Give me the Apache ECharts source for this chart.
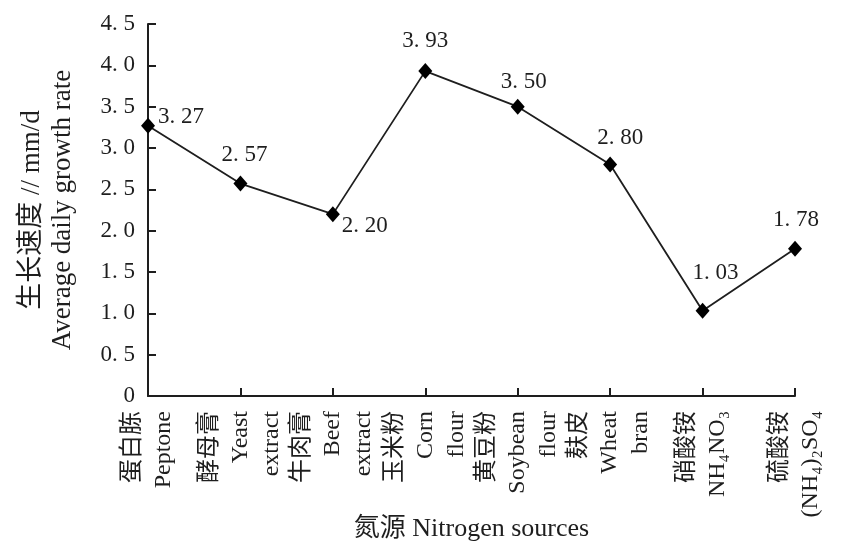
<!DOCTYPE html>
<html>
<head>
<meta charset="utf-8">
<script src="https://cdn.jsdelivr.net/npm/echarts@6/dist/echarts.min.js"></script>
<style>
html,body{margin:0;padding:0;background:#fff;}
#chart{width:843px;height:553px;}
</style>
</head>
<body>
<div id="chart"></div>
<script>
var categoriesCn = ['蛋白胨', '酵母膏', '牛肉膏', '玉米粉', '黄豆粉', '麸皮', '硝酸铵', '硫酸铵'];
var categoriesEn = ['Peptone', 'Yeast\nextract', 'Beef\nextract', 'Corn\nflour', 'Soybean\nflour', 'Wheat\nbran', 'NH₄NO₃', '(NH₄)₂SO₄'];
var growthRate = [3.27, 2.57, 2.20, 3.93, 3.50, 2.80, 1.03, 1.78];
var yTickLabels = ['0', '0. 5', '1. 0', '1. 5', '2. 0', '2. 5', '3. 0', '3. 5', '4. 0', '4. 5'];

var FONT = '"Liberation Serif", "Noto Sans CJK SC", serif';
var INK = '#1e1e1e';

// label placement (style only)
var labelPlace = [
  {position: 'right', offset: [-2, -9]},
  {position: 'top', offset: [4, -4]},
  {position: 'right', offset: [-3, 12]},
  {position: 'top', offset: [0, -6]},
  {position: 'top', offset: [6, 0]},
  {position: 'top', offset: [10, -2]},
  {position: 'top', offset: [13, -13]},
  {position: 'top', offset: [1, -4]}
];

function fmtValue(v) {
  return v.toFixed(2).replace('.', '. ');
}

var chart = echarts.init(document.getElementById('chart'));
var option = {
  backgroundColor: '#fff',
  animation: false,
  grid: {left: 148, right: 48, top: 24, bottom: 157, containLabel: false, outerBoundsMode: 'none'},
  xAxis: {
    type: 'category',
    boundaryGap: false,
    data: categoriesCn.map(function (c, i) { return c + '\n' + categoriesEn[i]; }),
    name: '氮源 Nitrogen sources',
    nameLocation: 'middle',
    nameGap: 120,
    nameMoveOverlap: false,
    nameTextStyle: {fontFamily: FONT, fontSize: 26, color: INK},
    axisLine: {lineStyle: {color: INK, width: 2}},
    axisTick: {inside: true, length: 8, interval: 0, lineStyle: {color: INK, width: 2}},
    axisLabel: {
      interval: 0, rotate: 90, margin: 15, lineHeight: 31,
      fontFamily: FONT, fontSize: 24, color: INK
    },
    splitLine: {show: false}
  },
  yAxis: {
    type: 'value',
    min: 0, max: 4.5, interval: 0.5,
    name: '生长速度 // mm/d\nAverage daily growth rate',
    nameLocation: 'middle',
    nameGap: 70,
    nameMoveOverlap: false,
    nameRotate: 90,
    nameTextStyle: {fontFamily: FONT, fontSize: 27, color: INK, lineHeight: 31},
    axisLine: {show: true, lineStyle: {color: INK, width: 2}},
    axisTick: {show: true, inside: true, length: 8, lineStyle: {color: INK, width: 2}},
    axisLabel: {
      margin: 13, fontFamily: FONT, fontSize: 23, color: INK,
      formatter: function (v) { return yTickLabels[Math.round(v / 0.5)]; }
    },
    splitLine: {show: false}
  },
  series: [{
    type: 'line',
    data: growthRate.map(function (v, i) {
      return {
        value: v,
        label: {
          show: true,
          position: labelPlace[i].position,
          offset: labelPlace[i].offset
        }
      };
    }),
    symbol: 'diamond',
    symbolSize: [14, 16],
    lineStyle: {color: INK, width: 1.8},
    itemStyle: {color: '#000'},
    label: {
      show: true,
      fontFamily: FONT, fontSize: 23, color: INK,
      formatter: function (p) { return fmtValue(p.value); }
    },
    z: 3
  }]
};
chart.setOption(option);
</script>
</body>
</html>
